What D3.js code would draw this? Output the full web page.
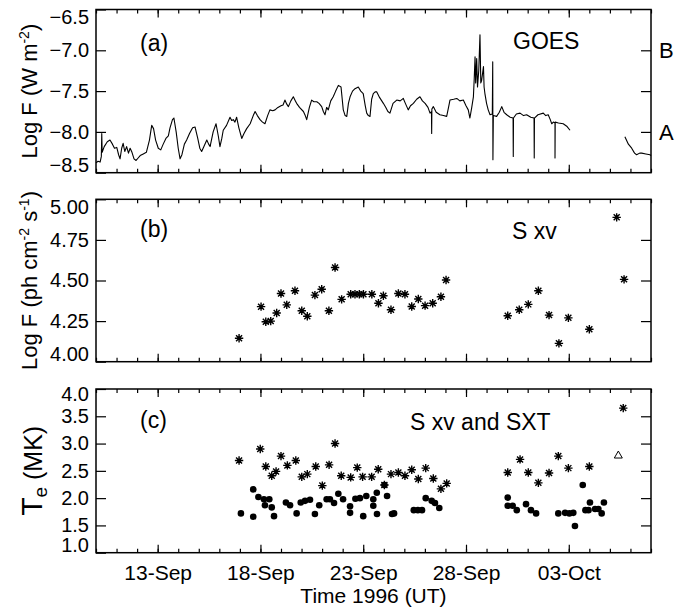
<!DOCTYPE html>
<html lang="en">
<head>
<meta charset="UTF-8">
<script src="https://d3js.org/d3.v7.min.js"></script>
<title>GOES, S xv and SXT, Sep-Oct 1996</title>
<style>
    body { margin: 0; background: #fff; }
    text { font-family: "Liberation Sans", Arial, Helvetica, sans-serif; fill: #000; }
</style>
</head>
<body>
<script>

// all times are fractional days of September 1996 (31.0 = 1 Oct 00:00 UT)

// panel (a): GOES 1-8 A flux, log10 W m^-2 (null = data gap)
var goesDay = [
    10.00, 10.10, 10.20, 10.26, 10.28, 10.30, 10.40, 10.55, 10.68, 10.80, 10.90, 11.01,
    11.10, 11.17, 11.25, 11.32, 11.40, 11.49, 11.58, 11.66, 11.75, 11.85, 11.95, 12.05,
    12.15, 12.30, 12.45, 12.60, 12.71, 12.80, 12.90, 13.03, 13.15, 13.27, 13.40, 13.52,
    13.60, 13.72, 13.79, 13.90, 14.00, 14.09, 14.18, 14.30, 14.41, 14.55, 14.70, 14.82,
    14.95, 15.05, 15.14, 15.25, 15.39, 15.48, 15.55, 15.70, 15.84, 15.95, 16.03, 16.12,
    16.19, 16.35, 16.52, 16.60, 16.68, 16.76, 16.84, 16.95, 17.09, 17.20, 17.33, 17.50,
    17.65, 17.74, 17.85, 17.98, 18.10, 18.22, 18.35, 18.46, 18.60, 18.71, 18.85, 19.00,
    19.10, 19.19, 19.28, 19.36, 19.48, 19.60, 19.70, 19.76, 19.90, 20.09, 20.18, 20.25,
    20.38, 20.49, 20.60, 20.74, 20.85, 20.98, 21.06, 21.14, 21.22, 21.30, 21.42, 21.54,
    21.66, 21.79, 21.92, 22.03, 22.12, 22.20, 22.28, 22.36, 22.48, 22.60, 22.76, 22.88,
    23.00, 23.10, 23.17, 23.25, 23.33, 23.41, 23.49, 23.58, 23.66, 23.80, 23.98, 24.10,
    24.20, 24.30, 24.45, 24.63, 24.80, 24.95, 25.05, 25.19, 25.30, 25.44, 25.60, 25.76,
    25.88, 26.01, 26.15, 26.25, 26.32, 26.33, 26.34, 26.41, 26.55, 26.73, 26.90, 27.06,
    27.15, 27.22, 27.40, 27.55, 27.70, 27.87, 28.00, 28.11, 28.19, 28.28, 28.36, 28.40,
    28.44, 28.47, 28.52, 28.56, 28.62, 28.68, 28.72, 28.76, 28.85, 28.88, 28.92, 29.00,
    29.08, 29.17, 29.28, 29.30, 29.31, 29.33, 29.49, 29.62, 29.74, 29.85, 29.98, 30.15,
    30.29, 30.30, 30.31, 30.45, 30.63, 30.80, 30.95, 31.15, 31.31, 31.32, 31.33, 31.50,
    31.76, 31.88, 32.00, 32.10, 32.17, 32.25, 32.33, 32.33, 32.34, 32.50, 32.73, 32.90,
    33.06, null,
    35.73, 35.90, 36.06, 36.20, 36.30, 36.45, 36.55, 36.75, 36.95, 37.00
];
var goesLogF = [
    -8.38, -8.36, -8.37, -8.30, -8.02, -8.25, -8.18, -8.12, -8.10, -8.15, -8.20, -8.19,
    -8.28, -8.33, -8.20, -8.14, -8.24, -8.18, -8.26, -8.20, -8.25, -8.33, -8.35, -8.32,
    -8.29, -8.27, -8.25, -8.10, -7.92, -7.96, -8.10, -8.20, -8.22, -8.15, -8.08, -8.05,
    -7.95, -7.85, -7.83, -8.00, -8.20, -8.33, -8.28, -8.15, -8.10, -8.02, -7.95, -7.94,
    -8.08, -8.20, -8.24, -8.18, -8.10, -8.15, -8.18, -8.00, -7.90, -8.05, -8.18, -8.08,
    -7.98, -7.92, -7.82, -7.86, -7.85, -7.88, -7.82, -7.95, -8.08, -8.02, -7.96, -7.90,
    -7.80, -7.75, -7.80, -7.85, -7.88, -7.90, -7.80, -7.73, -7.74, -7.73, -7.70, -7.68,
    -7.67, -7.61, -7.66, -7.69, -7.62, -7.57, -7.62, -7.65, -7.70, -7.75, -7.80, -7.85,
    -7.70, -7.61, -7.63, -7.63, -7.65, -7.69, -7.75, -7.79, -7.70, -7.73, -7.62, -7.57,
    -7.50, -7.43, -7.45, -7.73, -7.80, -7.81, -7.65, -7.57, -7.50, -7.47, -7.45, -7.50,
    -7.53, -7.68, -7.77, -7.80, -7.81, -7.60, -7.53, -7.51, -7.51, -7.58, -7.65, -7.70,
    -7.75, -7.77, -7.65, -7.61, -7.62, -7.59, -7.65, -7.73, -7.68, -7.65, -7.60, -7.57,
    -7.62, -7.65, -7.70, -7.77, -7.75, -8.02, -7.72, -7.69, -7.76, -7.79, -7.80, -7.81,
    -7.70, -7.61, -7.60, -7.59, -7.62, -7.61, -7.68, -7.73, -7.83, -7.70, -7.57, -7.35,
    -7.08, -7.40, -7.10, -7.45, -7.25, -6.81, -7.40, -7.37, -7.20, -7.45, -7.53, -7.65,
    -7.73, -7.79, -7.78, -7.14, -8.34, -7.80, -7.81, -7.76, -7.69, -7.76, -7.79, -7.82,
    -7.83, -8.30, -7.83, -7.78, -7.77, -7.80, -7.79, -7.82, -7.83, -8.32, -7.83, -7.79,
    -7.77, -7.80, -7.79, -7.85, -7.90, -7.88, -7.89, -8.32, -7.88, -7.89, -7.90, -7.93,
    -7.98, null,
    -8.06, -8.15, -8.20, -8.26, -8.28, -8.26, -8.26, -8.27, -8.28, -8.29
];

// panels (b) and (c): S xv (asterisks)
var sxvDay = [
    16.96, 18.03, 18.26, 18.50, 18.79, 19.00, 19.28, 19.68, 20.01, 20.28, 20.65, 20.98,
    21.33, 21.63, 21.95, 22.39, 22.60, 22.81, 23.01, 23.42, 23.74, 23.98, 24.35, 24.71,
    25.03, 25.36, 25.68, 26.01, 26.38, 26.78, 27.03, 30.03, 30.59, 31.03, 31.52, 32.04,
    32.52, 32.98, 34.00, 35.33, 35.69
];
var sxvLogF = [
    4.144, 4.339, 4.246, 4.250, 4.300, 4.420, 4.350, 4.437, 4.314, 4.280, 4.410, 4.446,
    4.314, 4.580, 4.384, 4.415, 4.415, 4.415, 4.415, 4.415, 4.360, 4.406, 4.320, 4.420,
    4.415, 4.340, 4.386, 4.345, 4.360, 4.400, 4.503, 4.283, 4.320, 4.353, 4.437, 4.287,
    4.113, 4.270, 4.200, 4.889, 4.507
];
var sxvTempDay = [
    16.96, 17.99, 18.26, 18.55, 18.76, 19.00, 19.31, 19.72, 20.01, 20.28, 20.69, 21.01,
    21.34, 21.63, 21.93, 22.39, 22.71, 22.97, 23.41, 23.73, 24.03, 24.35, 24.71, 25.03,
    25.36, 25.68, 26.04, 26.41, 26.78, 27.06, 30.03, 30.63, 31.03, 31.52, 32.04, 32.49,
    32.98, 34.00, 35.65
];
var sxvTempMK = [
    2.69, 2.90, 2.58, 2.41, 2.49, 2.77, 2.60, 2.69, 2.39, 2.44, 2.58, 2.23,
    2.61, 3.00, 2.41, 2.38, 2.56, 2.39, 2.39, 2.53, 2.24, 2.44, 2.47, 2.41,
    2.52, 2.35, 2.55, 2.36, 2.17, 2.27, 2.47, 2.71, 2.47, 2.28, 2.46, 2.77,
    2.55, 2.58, 3.65
];

// panel (c): SXT temperatures (filled circles)
var sxtDay = [
    17.05, 17.65, 17.65, 17.90, 18.17, 18.43, 18.22, 18.55, 18.66, 19.24, 19.44, 19.76,
    19.96, 20.17, 20.41, 20.65, 20.86, 21.22, 21.38, 21.58, 21.79, 22.02, 22.36, 22.36,
    22.62, 22.84, 23.00, 23.15, 23.49, 23.49, 23.66, 23.67, 24.03, 24.16, 24.40, 24.50,
    25.46, 25.66, 25.86, 26.04, 26.33, 26.49, 26.70, 30.03, 30.03, 30.27, 30.47, 30.92,
    31.16, 31.41, 32.49, 32.82, 33.03, 33.22, 33.30, 33.68, 33.81, 33.96, 34.03, 34.28,
    34.44, 34.60, 34.71
];
var sxtTempMK = [
    1.72, 1.66, 2.16, 2.02, 1.98, 1.98, 1.87, 1.83, 1.67, 1.92, 1.87, 1.72,
    1.92, 1.95, 1.97, 1.71, 1.87, 1.98, 1.98, 1.91, 2.08, 1.98, 1.85, 1.73,
    1.99, 2.00, 1.67, 2.04, 1.98, 1.86, 2.10, 1.71, 2.24, 2.04, 1.71, 1.72,
    1.78, 1.78, 1.78, 2.00, 1.95, 1.91, 1.82, 2.01, 1.86, 1.86, 1.78, 1.89,
    1.78, 1.72, 1.72, 1.73, 1.72, 1.73, 1.49, 2.24, 1.78, 1.78, 1.92, 1.80,
    1.80, 1.72, 1.92
];

// the single open triangle in panel (c)
var triangleDay = [35.41];
var triangleTempMK = [2.79];

// axes
var xDomainDays = [10, 37];
var majorTickDays = [13, 18, 23, 28, 33];
var goesTicks = [-8.5, -8.0, -7.5, -7.0, -6.5];
var goesClassTicks = [-8.0, -7.5, -7.0];
var goesClassLabels = [{ value: -7.0, label: "B" }, { value: -8.0, label: "A" }];
var sxvTicks = [4.00, 4.25, 4.50, 4.75, 5.00];
var tempTicks = [1.0, 1.5, 2.0, 2.5, 3.0, 3.5, 4.0];

var width = 675, height = 611;
var left = 96, right = 651;

function toDate(d) {
    return new Date(Date.UTC(1996, 8, 1) + (d - 1) * 864e5);
}

var svg = d3.select("body")
    .append("svg")
    .attr("width", width)
    .attr("height", height);

var x = d3.scaleUtc()
    .domain(xDomainDays.map(toDate))
    .range([left, right]);

var minorDays = d3.utcDay.range(toDate(xDomainDays[0]), toDate(xDomainDays[1] + 0.5));
var majorDates = majorTickDays.map(toDate);

// topShift: how far the top tick label is pushed down into the box
var panels = [
    { top: 9.5, bottom: 172.7, domain: [-8.5, -6.5], ticks: goesTicks, fmt: d3.format(".1f"), topShift: 14 },
    { top: 199.3, bottom: 361.7, domain: [4.0, 5.0], ticks: sxvTicks, fmt: d3.format(".2f"), topShift: 14 },
    { top: 389, bottom: 552.7, domain: [1.0, 4.0], ticks: tempTicks, fmt: d3.format(".1f"), topShift: 11 }
];

panels.forEach(function(p, i) {
    p.y = d3.scaleLinear().domain(p.domain).range([p.bottom, p.top]);
    var g = svg.append("g");

    // inward ticks on all four sides
    g.append("g")
        .attr("transform", "translate(0," + p.bottom + ")")
        .call(d3.axisBottom(x).tickValues(minorDays).tickSize(-4).tickFormat(""));
    var xb = g.append("g")
        .attr("transform", "translate(0," + p.bottom + ")")
        .call(d3.axisBottom(x).tickValues(majorDates).tickSize(-8)
            .tickPadding(12).tickFormat(i == 2 ? d3.utcFormat("%d-%b") : ""));
    g.append("g")
        .attr("transform", "translate(0," + p.top + ")")
        .call(d3.axisTop(x).tickValues(minorDays).tickSize(-4).tickFormat(""));
    g.append("g")
        .attr("transform", "translate(0," + p.top + ")")
        .call(d3.axisTop(x).tickValues(majorDates).tickSize(-8).tickFormat(""));

    var yAxis = g.append("g")
        .attr("transform", "translate(" + left + ",0)")
        .call(d3.axisLeft(p.y).tickValues(p.ticks).tickSize(-10).tickPadding(7).tickFormat(p.fmt));

    var rightTicks = i == 0 ? goesClassTicks : p.ticks.slice(1, -1);
    g.append("g")
        .attr("transform", "translate(" + right + ",0)")
        .call(d3.axisRight(p.y).tickValues(rightTicks).tickSize(-10).tickFormat(""));

    g.selectAll(".domain").remove();
    g.selectAll(".tick line").attr("stroke", "#000").attr("stroke-width", 1.2);
    g.selectAll(".tick text").attr("fill", "#000")
        .attr("font-family", "Liberation Sans, Arial, sans-serif");
    xb.selectAll(".tick text").attr("font-size", 21);

    // end labels are kept inside the box height
    yAxis.selectAll(".tick text")
        .attr("font-size", 20)
        .attr("dy", function(d) {
            if (d == p.domain[0]) return "-1px";
            if (d == p.domain[1]) return p.topShift + "px";
            return "0.32em";
        });

    g.append("rect")
        .attr("x", left)
        .attr("y", p.top)
        .attr("width", right - left)
        .attr("height", p.bottom - p.top)
        .attr("fill", "none")
        .attr("stroke", "#000")
        .attr("stroke-width", 1.5);
});

// panel (a): GOES light curve
var goes = goesDay.map(function(d, i) { return { day: d, v: goesLogF[i] }; });
var pa = panels[0];
var line = d3.line()
    .defined(function(d) { return d.day != null; })
    .x(function(d) { return x(toDate(d.day)); })
    .y(function(d) { return pa.y(d.v); });

svg.append("path")
    .datum(goes)
    .attr("d", line)
    .attr("fill", "none")
    .attr("stroke", "#000")
    .attr("stroke-width", 1.1)
    .attr("stroke-linejoin", "round");

svg.selectAll(".goesClass")
    .data(goesClassLabels)
    .enter()
    .append("text")
    .attr("class", "goesClass")
    .attr("x", right + 8)
    .attr("y", function(d) { return pa.y(d.value); })
    .attr("dy", "0.35em")
    .attr("font-size", 22)
    .text(function(d) { return d.label; });

// asterisk as used for the S xv points
var asterisk = "M-4.2,0H4.2M0,-4.2V4.2M-3,-3L3,3M-3,3L3,-3";

function drawStars(days, vals, yScale) {
    svg.append("g")
        .selectAll("path")
        .data(days)
        .enter()
        .append("path")
        .attr("d", asterisk)
        .attr("transform", function(d, i) {
            return "translate(" + x(toDate(d)) + "," + yScale(vals[i]) + ")";
        })
        .attr("fill", "none")
        .attr("stroke", "#000")
        .attr("stroke-width", 1.4);
}

drawStars(sxvDay, sxvLogF, panels[1].y);
drawStars(sxvTempDay, sxvTempMK, panels[2].y);

svg.append("g")
    .selectAll("circle")
    .data(sxtDay)
    .enter()
    .append("circle")
    .attr("cx", function(d) { return x(toDate(d)); })
    .attr("cy", function(d, i) { return panels[2].y(sxtTempMK[i]); })
    .attr("r", 3.3)
    .attr("fill", "#000");

svg.append("g")
    .selectAll("path")
    .data(triangleDay)
    .enter()
    .append("path")
    .attr("d", "M0,-4L4,3H-4Z")
    .attr("transform", function(d, i) {
        return "translate(" + x(toDate(d)) + "," + panels[2].y(triangleTempMK[i]) + ")";
    })
    .attr("fill", "none")
    .attr("stroke", "#000")
    .attr("stroke-width", 1);

// panel annotations
var notes = [
    { x: 140, y: 51, t: "(a)" }, { x: 513, y: 48.5, t: "GOES" },
    { x: 140, y: 237, t: "(b)" }, { x: 512, y: 239, t: "S xv" },
    { x: 140, y: 428, t: "(c)" }, { x: 410, y: 430, t: "S xv and SXT" }
];
svg.selectAll(".note")
    .data(notes)
    .enter()
    .append("text")
    .attr("class", "note")
    .attr("x", function(d) { return d.x; })
    .attr("y", function(d) { return d.y; })
    .attr("font-size", 23)
    .text(function(d) { return d.t; });

// axis titles
function yTitle(p, xPos, size, parts) {
    var t = svg.append("text")
        .attr("transform", "translate(" + xPos + "," + (p.top + p.bottom) / 2 + ") rotate(-90)")
        .attr("text-anchor", "middle")
        .attr("font-size", size);
    parts.forEach(function(s) {
        var ts = t.append("tspan").text(s[0]);
        if (s[1] == "sup") ts.attr("font-size", 14).attr("baseline-shift", "55%");
        if (s[1] == "sub") ts.attr("font-size", 19).attr("baseline-shift", "-25%");
        if (s[1] == "big") ts.attr("font-size", 30);
    });
}

yTitle(panels[0], 37, 22, [["Log F (W m"], ["-2", "sup"], [")"]]);
yTitle(panels[1], 37, 22, [["Log F (ph cm"], ["-2", "sup"], [" s"], ["-1", "sup"], [")"]]);
yTitle(panels[2], 42, 25, [["T", "big"], ["e", "sub"], [" (MK)"]]);

svg.append("text")
    .attr("x", (left + right) / 2)
    .attr("y", 603)
    .attr("text-anchor", "middle")
    .attr("font-size", 21)
    .text("Time 1996 (UT)");

</script>
</body>
</html>
